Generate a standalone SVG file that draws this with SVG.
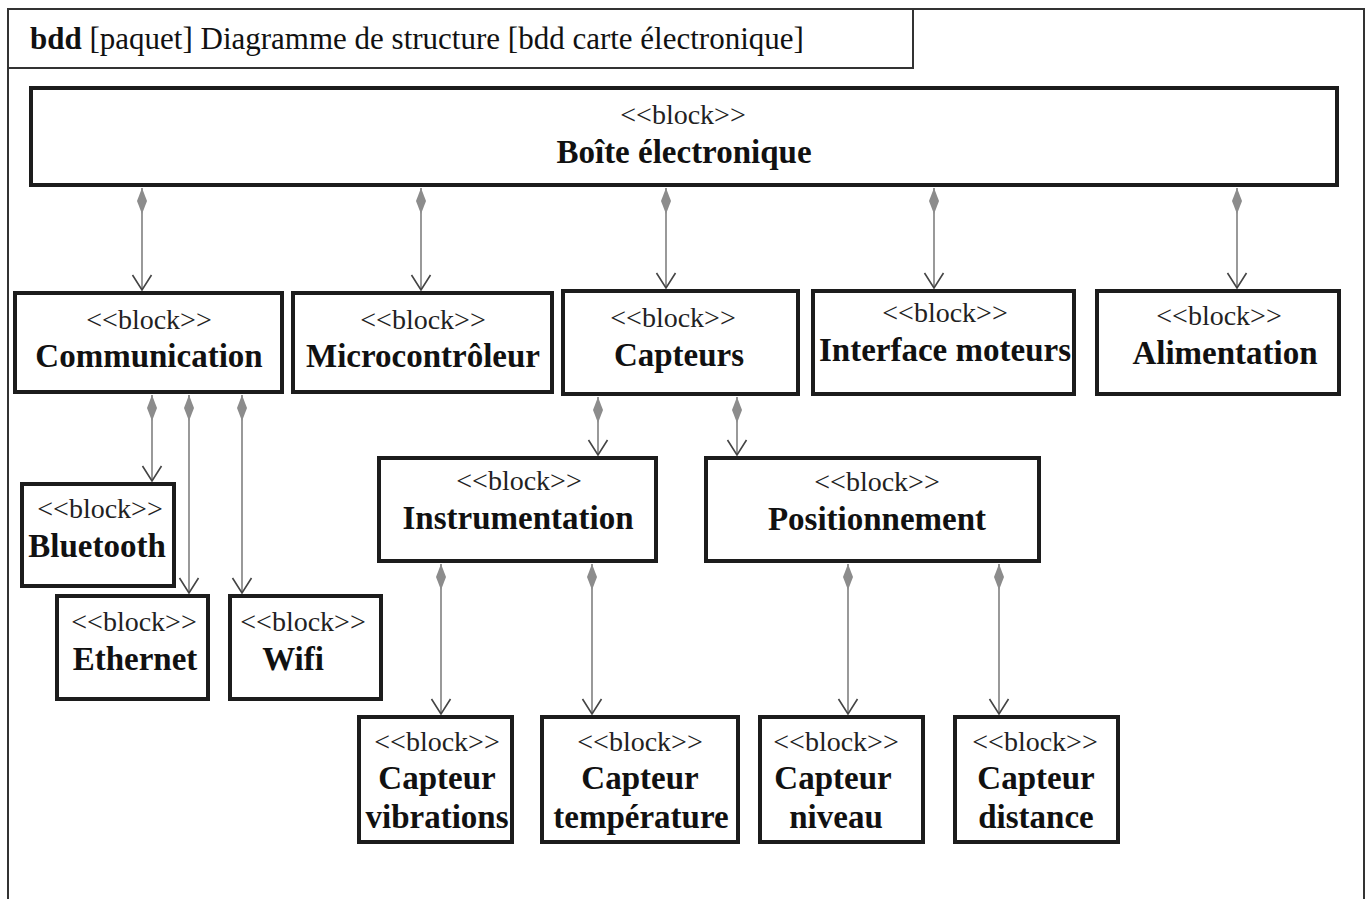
<svg xmlns="http://www.w3.org/2000/svg" width="1370" height="899" viewBox="0 0 1370 899">
  <style>
    .frame { fill: none; stroke: #333; stroke-width: 2; }
    .blk { fill: #fff; stroke: #1c1c1c; stroke-width: 4; }
    .st { font-size: 28px; fill: #222; text-anchor: middle; }
    .nm { font-size: 33px; font-weight: bold; fill: #111; text-anchor: middle; }
    .hd { font-size: 31px; fill: #111; }
    .cn { fill: none; stroke: #808080; stroke-width: 1.6; marker-start: url(#diamond); marker-end: url(#arrow); }
  </style>
  <defs>
    <marker id="diamond" markerUnits="userSpaceOnUse" markerWidth="30" markerHeight="12" refX="0" refY="0" orient="auto" viewBox="-1 -6 28 12" overflow="visible">
      <polygon points="0,0 13,-5 26,0 13,5" fill="#8c8c8c" stroke="none"/>
    </marker>
    <marker id="arrow" markerUnits="userSpaceOnUse" markerWidth="20" markerHeight="22" refX="0" refY="0" orient="auto" viewBox="-16 -11 18 22" overflow="visible">
      <polyline points="-15,-9.5 0,0 -15,9.5" fill="none" stroke="#444" stroke-width="1.6"/>
    </marker>
  </defs>

  <rect width="1370" height="899" fill="#fff"/>

  <g font-family="Liberation Serif, serif">
  <!-- package frame and heading tab -->
  <g id="frame">
    <polyline class="frame" points="8,899 8,9 1364,9 1364,899"/>
    <rect class="frame" x="8" y="9" width="905" height="59"/>
    <text class="hd" x="30" y="49"><tspan font-weight="bold">bdd</tspan> [paquet] Diagramme de structure [bdd carte électronique]</text>
  </g>

  <!-- composition connectors -->
  <g id="connectors">
    <line class="cn" x1="142" y1="188" x2="142" y2="290"/>
    <line class="cn" x1="421" y1="188" x2="421" y2="290"/>
    <line class="cn" x1="666" y1="188" x2="666" y2="288"/>
    <line class="cn" x1="934" y1="188" x2="934" y2="288"/>
    <line class="cn" x1="1237" y1="188" x2="1237" y2="288"/>

    <line class="cn" x1="152" y1="395" x2="152" y2="481"/>
    <line class="cn" x1="189" y1="395" x2="189" y2="593"/>
    <line class="cn" x1="242" y1="395" x2="242" y2="593"/>

    <line class="cn" x1="598" y1="397" x2="598" y2="455"/>
    <line class="cn" x1="737" y1="397" x2="737" y2="455"/>

    <line class="cn" x1="441" y1="564" x2="441" y2="714"/>
    <line class="cn" x1="592" y1="564" x2="592" y2="714"/>
    <line class="cn" x1="848" y1="564" x2="848" y2="714"/>
    <line class="cn" x1="999" y1="564" x2="999" y2="714"/>
  </g>

  <g id="boite">
    <rect class="blk" x="31" y="88" width="1306" height="97"/>
    <text class="st" x="683" y="124">&lt;&lt;block&gt;&gt;</text>
    <text class="nm" x="684" y="163">Boîte électronique</text>
  </g>

  <g id="communication">
    <rect class="blk" x="15" y="293" width="267" height="99"/>
    <text class="st" x="149" y="329">&lt;&lt;block&gt;&gt;</text>
    <text class="nm" x="149" y="367">Communication</text>
  </g>

  <g id="microcontroleur">
    <rect class="blk" x="293" y="293" width="259" height="99"/>
    <text class="st" x="423" y="329">&lt;&lt;block&gt;&gt;</text>
    <text class="nm" x="423" y="367">Microcontrôleur</text>
  </g>

  <g id="capteurs">
    <rect class="blk" x="563" y="291" width="235" height="103"/>
    <text class="st" x="673" y="327">&lt;&lt;block&gt;&gt;</text>
    <text class="nm" x="679" y="366">Capteurs</text>
  </g>

  <g id="interface-moteurs">
    <rect class="blk" x="813" y="291" width="261" height="103"/>
    <text class="st" x="945" y="322">&lt;&lt;block&gt;&gt;</text>
    <text class="nm" x="945" y="361">Interface moteurs</text>
  </g>

  <g id="alimentation">
    <rect class="blk" x="1097" y="291" width="242" height="103"/>
    <text class="st" x="1219" y="325">&lt;&lt;block&gt;&gt;</text>
    <text class="nm" x="1225" y="364">Alimentation</text>
  </g>

  <g id="bluetooth">
    <rect class="blk" x="22" y="484" width="152" height="102"/>
    <text class="st" x="100" y="518">&lt;&lt;block&gt;&gt;</text>
    <text class="nm" x="97" y="557">Bluetooth</text>
  </g>

  <g id="ethernet">
    <rect class="blk" x="57" y="596" width="151" height="103"/>
    <text class="st" x="134" y="631">&lt;&lt;block&gt;&gt;</text>
    <text class="nm" x="135" y="670">Ethernet</text>
  </g>

  <g id="wifi">
    <rect class="blk" x="230" y="596" width="151" height="103"/>
    <text class="st" x="303" y="631">&lt;&lt;block&gt;&gt;</text>
    <text class="nm" x="293" y="670">Wifi</text>
  </g>

  <g id="instrumentation">
    <rect class="blk" x="379" y="458" width="277" height="103"/>
    <text class="st" x="519" y="490">&lt;&lt;block&gt;&gt;</text>
    <text class="nm" x="518" y="529">Instrumentation</text>
  </g>

  <g id="positionnement">
    <rect class="blk" x="706" y="458" width="333" height="103"/>
    <text class="st" x="877" y="491">&lt;&lt;block&gt;&gt;</text>
    <text class="nm" x="877" y="530">Positionnement</text>
  </g>

  <g id="capteur-vibrations">
    <rect class="blk" x="359" y="717" width="153" height="125"/>
    <text class="st" x="437" y="751">&lt;&lt;block&gt;&gt;</text>
    <text class="nm" x="437" y="789">Capteur</text>
    <text class="nm" x="437" y="828">vibrations</text>
  </g>

  <g id="capteur-temperature">
    <rect class="blk" x="542" y="717" width="196" height="125"/>
    <text class="st" x="640" y="751">&lt;&lt;block&gt;&gt;</text>
    <text class="nm" x="640" y="789">Capteur</text>
    <text class="nm" x="641" y="828">température</text>
  </g>

  <g id="capteur-niveau">
    <rect class="blk" x="760" y="717" width="163" height="125"/>
    <text class="st" x="836" y="751">&lt;&lt;block&gt;&gt;</text>
    <text class="nm" x="833" y="789">Capteur</text>
    <text class="nm" x="836" y="828">niveau</text>
  </g>

  <g id="capteur-distance">
    <rect class="blk" x="955" y="717" width="163" height="125"/>
    <text class="st" x="1035" y="751">&lt;&lt;block&gt;&gt;</text>
    <text class="nm" x="1036" y="789">Capteur</text>
    <text class="nm" x="1036" y="828">distance</text>
  </g>
  </g>
</svg>
